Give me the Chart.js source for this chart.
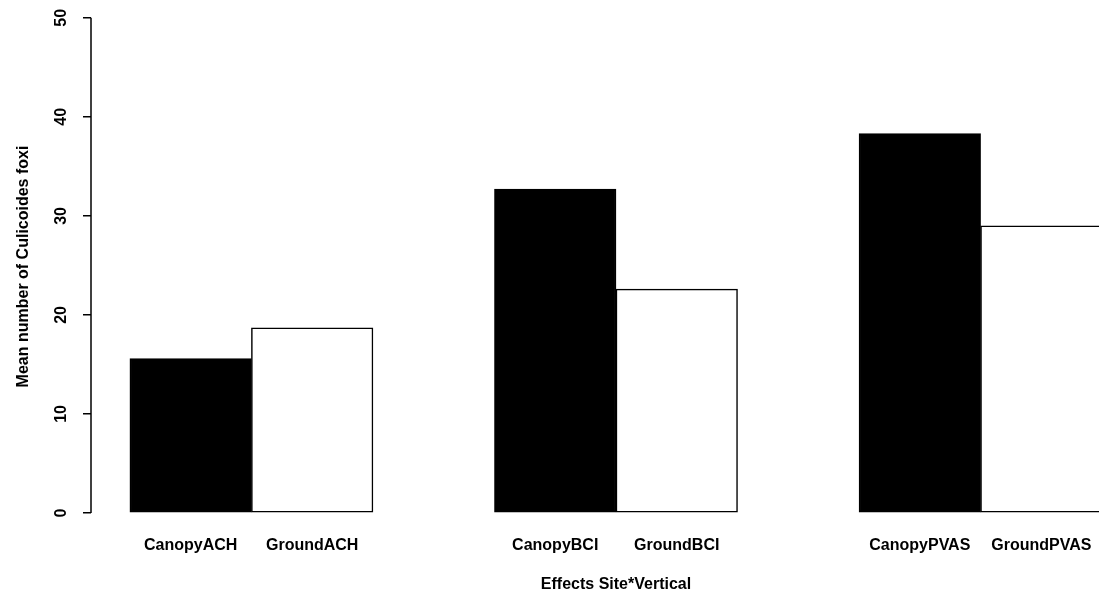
<!DOCTYPE html>
<html>
<head>
<meta charset="utf-8">
<title>Mean number of Culicoides foxi</title>
<script src="https://cdn.jsdelivr.net/npm/chart.js@4/dist/chart.umd.min.js"></script>
<style>
  html, body { margin: 0; padding: 0; background: #ffffff; overflow: hidden; }
  #wrap { width: 1141px; height: 596px; }
</style>
</head>
<body>
<div id="wrap"><canvas id="chart" width="1141" height="596"></canvas></div>
<script>
// Sites and the mean catch per trap position
const sites = ['ACH', 'BCI', 'PVAS'];
const positions = ['Canopy', 'Ground'];
const canopyMeans = [15.6, 32.7, 38.3];
const groundMeans = [18.7, 22.6, 29.0];
const yTickValues = [0, 10, 20, 30, 40, 50];
const xTitle = 'Effects Site*Vertical';
const yTitle = 'Mean number of Culicoides foxi';

// barplot-style layout: each site is a pair of unit-width bars, one unit of space before each pair
const barCenter = (siteIdx, posIdx) => 1 + siteIdx * 3 + posIdx + 0.5;
const tickLabels = [];
sites.forEach((s, i) => positions.forEach((p, j) => tickLabels.push({ value: barCenter(i, j), label: p + s })));

const canopyData = canopyMeans.map((v, i) => ({ x: barCenter(i, 0), y: v }));
const groundData = groundMeans.map((v, i) => ({ x: barCenter(i, 1), y: v }));

Chart.defaults.font.family = '"Liberation Sans", Arial, Helvetica, sans-serif';
Chart.defaults.font.weight = 'bold';
Chart.defaults.font.size = 16;
Chart.defaults.color = '#000000';

// Draws the y axis line only between its first and last tick
const yAxisLine = {
  id: 'yAxisLine',
  afterDraw(chart) {
    const y = chart.scales.y;
    const ctx = chart.ctx;
    const x = chart.chartArea.left;
    ctx.save();
    ctx.strokeStyle = '#000000';
    ctx.lineWidth = 1.5;
    ctx.beginPath();
    ctx.moveTo(x, y.getPixelForValue(yTickValues[0]));
    ctx.lineTo(x, y.getPixelForValue(yTickValues[yTickValues.length - 1]));
    ctx.stroke();
    ctx.restore();
  }
};

new Chart(document.getElementById('chart'), {
  type: 'bar',
  data: {
    datasets: [
      {
        label: positions[0],
        data: canopyData,
        backgroundColor: '#000000',
        borderColor: '#000000',
        borderWidth: 1.5,
        borderSkipped: false
      },
      {
        label: positions[1],
        data: groundData,
        backgroundColor: '#ffffff',
        borderColor: '#000000',
        borderWidth: 1.5,
        borderSkipped: false
      }
    ]
  },
  options: {
    responsive: false,
    animation: false,
    devicePixelRatio: 1,
    grouped: false,
    barPercentage: 1,
    categoryPercentage: 1,
    layout: { padding: 0 },
    plugins: {
      legend: { display: false },
      tooltip: { enabled: false }
    },
    scales: {
      x: {
        type: 'linear',
        position: 'bottom',
        offset: false,
        min: 0.68,
        max: 9.32,
        grid: { display: false, drawTicks: false, offset: false },
        border: { display: false },
        afterBuildTicks: (scale) => { scale.ticks = tickLabels.map(t => ({ value: t.value })); },
        afterFit: (scale) => {
          scale.height = 63;
          scale.paddingLeft = 0;
          scale.paddingRight = 0;
        },
        ticks: {
          autoSkip: false,
          maxRotation: 0,
          minRotation: 0,
          padding: 3,
          callback: (value) => {
            const t = tickLabels.find(t => Math.abs(t.value - value) < 1e-6);
            return t ? t.label : '';
          }
        },
        title: {
          display: true,
          text: xTitle,
          padding: { top: 0, bottom: 2 }
        }
      },
      y: {
        type: 'linear',
        position: 'left',
        min: -2.02,
        max: 51.8,
        grid: {
          drawOnChartArea: false,
          drawTicks: true,
          tickLength: 8,
          color: '#000000',
          lineWidth: 1.5
        },
        border: { display: false },
        afterBuildTicks: (scale) => { scale.ticks = yTickValues.map(v => ({ value: v })); },
        afterFit: (scale) => {
          scale.width = 91;
          scale.paddingTop = 0;
          scale.paddingBottom = 0;
        },
        ticks: {
          minRotation: 90,
          maxRotation: 90,
          crossAlign: 'center',
          padding: 13
        },
        title: {
          display: true,
          text: yTitle,
          padding: { top: 14, bottom: 0 }
        }
      }
    }
  },
  plugins: [yAxisLine]
});
</script>
</body>
</html>
